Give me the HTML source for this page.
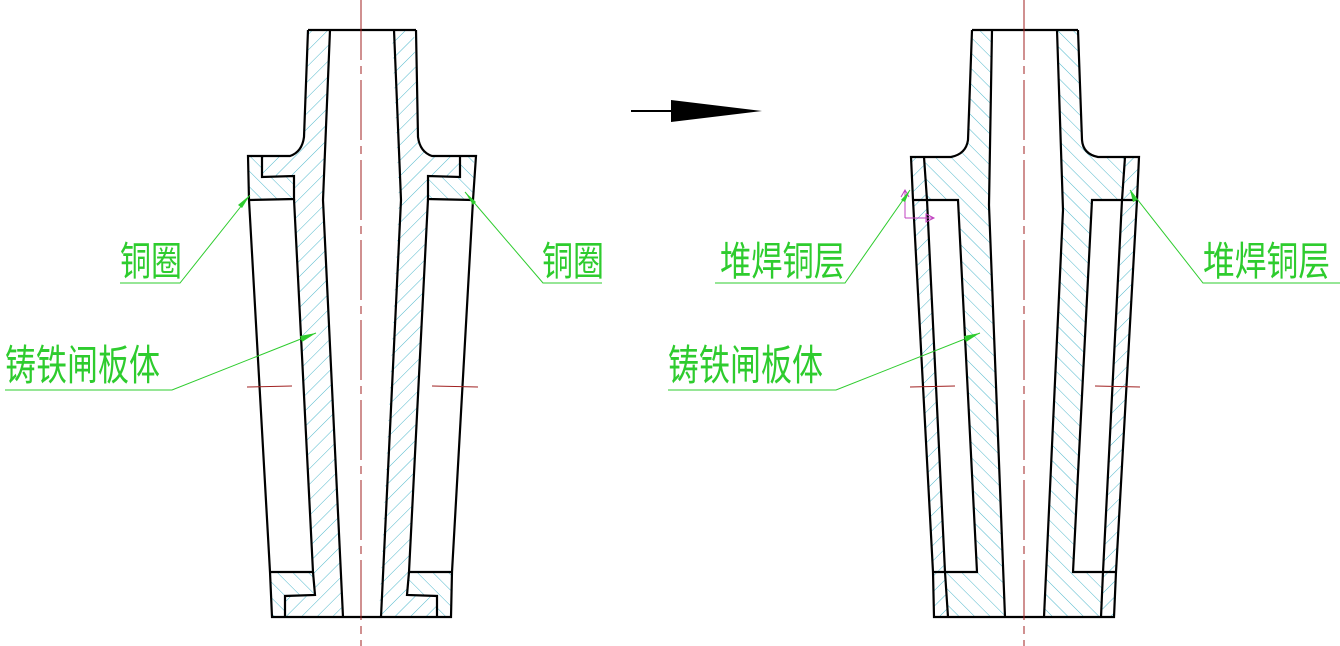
<!DOCTYPE html>
<html><head><meta charset="utf-8"><style>
html,body{margin:0;padding:0;background:#fff;}
svg{display:block;}
text{font-family:"Liberation Sans","Noto Sans CJK SC",sans-serif;fill:#2ecc2e;}
</style></head><body>
<svg width="1340" height="646" viewBox="0 0 1340 646" xmlns="http://www.w3.org/2000/svg">
<defs>
<pattern id="hb" patternUnits="userSpaceOnUse" width="11" height="11" patternTransform="rotate(45)">
<line x1="0" y1="0" x2="0" y2="11" stroke="#4fb8cc" stroke-width="1"/></pattern>
<pattern id="hf" patternUnits="userSpaceOnUse" width="11" height="11" patternTransform="rotate(-45)">
<line x1="0" y1="0" x2="0" y2="11" stroke="#4fb8cc" stroke-width="1"/></pattern>
</defs>

<!-- LEFT DRAWING -->
<g>
<path d="M308,30 L304,137 Q302,152 290,156 L262,156 L262,177 L294,176 L294,199 L313,572 L315,595 L285,596 L285,617 L343,617 L323,200 L330,30 Z" fill="url(#hb)"/>
<path d="M414,30 L418,137 Q420,152 432,156 L460,156 L460,177 L428,176 L428,199 L409,572 L407,595 L437,596 L437,617 L379,617 L399,200 L392,30 Z" fill="url(#hb)"/>
<path d="M248,156 L262,156 L262,177 L294,176 L294,199 L249,200 Z" fill="url(#hf)"/>
<path d="M474,156 L460,156 L460,177 L428,176 L428,199 L473,200 Z" fill="url(#hf)"/>
<path d="M270,572 L313,572 L315,595 L285,596 L285,617 L272,617 Z" fill="url(#hf)"/>
<path d="M452,572 L409,572 L407,595 L437,596 L437,617 L450,617 Z" fill="url(#hf)"/>
<g fill="none" stroke="#000" stroke-width="2.2">
<path d="M308,30 L416,30"/>
<path d="M308,30 L304,137 Q302,152 290,156 L248,156 L249,200 L270,572 L272,617 L451,617 L452,572 L473,200 L476,156 L432,156 Q420,152 418,137 L416,30"/>
<path d="M330,30 L323,200 L343,617"/>
<path d="M394,30 L401,200 L381,617"/>
<path d="M262,156 L262,177 L294,176 L294,199 L249,200"/>
<path d="M294,199 L313,572 L270,572"/>
<path d="M313,572 L315,595 L285,596 L285,617"/>
<path d="M460,156 L460,177 L428,176 L428,199 L473,200"/>
<path d="M428,199 L409,572 L452,572"/>
<path d="M409,572 L407,595 L437,596 L437,617"/>
</g>
<g stroke="#a02020" stroke-width="1">
<line x1="361" y1="0" x2="361" y2="646" stroke-dasharray="60,6,8,6"/>
<line x1="247" y1="387" x2="292" y2="386"/>
<line x1="432" y1="386" x2="478" y2="387"/>
</g>
</g>

<!-- ARROW -->
<line x1="631" y1="111" x2="672" y2="111" stroke="#000" stroke-width="2"/>
<polygon points="671,100 762,111 671,122" fill="#000"/>

<!-- RIGHT DRAWING -->
<g>
<path d="M972,30 L968,140 Q966,154 951,157 L911,157 L913,200 L933,572 L934,617 L1114,617 L1116,572 L1137,200 L1139,157 L1098,157 Q1083,154 1082,140 L1078,30 L1057,30 L1063,210 L1044,617 L1005,617 L989,205 L992,30 Z" fill="url(#hf)"/>
<path d="M927,200 L958,200 L977,572 L945,572 Z" fill="#fff"/>
<path d="M1122,200 L1092,200 L1073,572 L1103,572 Z" fill="#fff"/>
<path d="M911,157 L924,157 L948,617 L934,617 L933,572 L913,200 Z" fill="#fff"/>
<path d="M1139,157 L1125,157 L1101,617 L1114,617 L1116,572 L1137,200 Z" fill="#fff"/>
<path d="M911,157 L924,157 L948,617 L934,617 L933,572 L913,200 Z" fill="url(#hb)"/>
<path d="M1139,157 L1125,157 L1101,617 L1114,617 L1116,572 L1137,200 Z" fill="url(#hb)"/>
<g fill="none" stroke="#000" stroke-width="2.2">
<path d="M972,30 L1078,30"/>
<path d="M972,30 L968,140 Q966,154 951,157 L911,157 L913,200 L933,572 L934,617 L1114,617 L1116,572 L1137,200 L1139,157 L1098,157 Q1083,154 1082,140 L1078,30"/>
<path d="M992,30 L989,205 L1005,617"/>
<path d="M1057,30 L1063,210 L1044,617"/>
<path d="M924,157 L927,200 L945,572 L948,617"/>
<path d="M1125,157 L1122,200 L1103,572 L1101,617"/>
<path d="M913,200 L958,200 L977,572 L933,572"/>
<path d="M1137,200 L1092,200 L1073,572 L1116,572"/>
</g>
<g stroke="#a02020" stroke-width="1">
<line x1="1024" y1="0" x2="1024" y2="646" stroke-dasharray="60,6,8,6"/>
<line x1="910" y1="387" x2="955" y2="386"/>
<line x1="1095" y1="386" x2="1140" y2="387"/>
</g>
<g stroke="#c040c0" stroke-width="1" fill="none">
<path d="M905,218 L905,190 M901,197 L905,190 L909,197"/>
<path d="M905,218 L933,218 M926,214 L934,218 L926,222 Z"/>
</g>
</g>

<!-- LABELS -->
<g stroke="#2ecc2e" stroke-width="1" fill="none">
<path d="M120,283 L180,283 L250,195"/>
<path d="M602,283 L543,283 L465,192"/>
<path d="M5,390 L172,390 L316,333"/>
<path d="M715,283 L845,283 L910,190"/>
<path d="M1340,283 L1203,283 L1130,190"/>
<path d="M668,390 L836,390 L980,333"/>
</g>
<g fill="#2ecc2e">
<polygon points="250,195 238,205 242,208"/>
<polygon points="465,192 476,202 473,205"/>
<polygon points="316,333 300,336 302,342"/>
<polygon points="910,190 901,200 905,202"/>
<polygon points="1130,190 1137,200 1133,202"/>
<polygon points="980,333 964,336 966,342"/>
</g>
<text x="120" y="275" font-size="40" textLength="62" lengthAdjust="spacingAndGlyphs">铜圈</text>
<text x="542" y="275" font-size="40" textLength="62" lengthAdjust="spacingAndGlyphs">铜圈</text>
<text x="5" y="380" font-size="42" textLength="155" lengthAdjust="spacingAndGlyphs">铸铁闸板体</text>
<text x="668" y="380" font-size="42" textLength="155" lengthAdjust="spacingAndGlyphs">铸铁闸板体</text>
<text x="720" y="275" font-size="40" textLength="125" lengthAdjust="spacingAndGlyphs">堆焊铜层</text>
<text x="1203" y="275" font-size="40" textLength="127" lengthAdjust="spacingAndGlyphs">堆焊铜层</text>
</svg>
</body></html>
